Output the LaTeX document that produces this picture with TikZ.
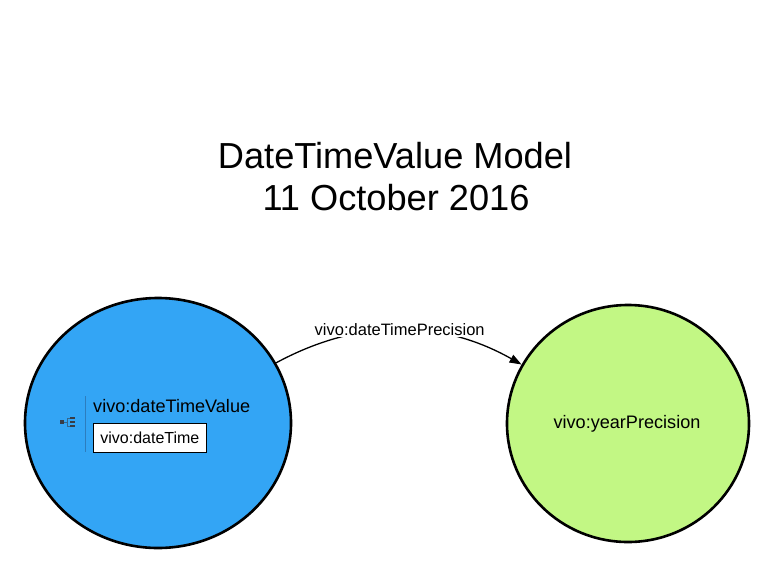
\documentclass[tikz,border=0pt]{standalone}
\usepackage{fontspec}
\setmainfont{Liberation Sans}
\usetikzlibrary{shapes.geometric,arrows.meta}
\definecolor{nodeblue}{RGB}{51,165,245}
\definecolor{nodegreen}{RGB}{194,247,132}
\definecolor{sepblue}{RGB}{44,125,190}
\definecolor{icongray}{RGB}{55,60,70}
\tikzset{
  classnode/.style={ellipse, draw=black, line width=2.6pt, inner sep=0pt},
  titletext/.style={font=\fontsize{36.2}{42}\selectfont, inner sep=0pt, anchor=base},
  labeltext/.style={font=\fontsize{18.1}{20}\selectfont, inner sep=0pt},
  proptext/.style={font=\fontsize{16}{18}\selectfont},
  propbox/.style={draw=black, line width=0.8pt, fill=white, inner xsep=6.5pt, inner ysep=0pt,
    text height=12pt, text depth=1pt, minimum height=29pt, minimum width=113pt, anchor=west},
  edge/.style={line width=1.3pt, -{Triangle[length=12pt,width=8.5pt]}},
  edgelabel/.style={font=\fontsize{16.5}{18}\selectfont, fill=white, inner sep=1pt}
}
\begin{document}
\begin{tikzpicture}[x=1pt,y=-1pt]
\useasboundingbox (0,0) rectangle (775,576);
% title
\node[titletext] (title1) at (395,168) {DateTimeValue Model};
\node[titletext] (title2) at (396,210) {11 October 2016};
% nodes
\node[classnode, fill=nodeblue, minimum width=266pt, minimum height=250pt] (dtv) at (158,423) {};
\node[classnode, fill=nodegreen, minimum width=242pt, minimum height=237pt] (yp) at (628,423.5) {};
% contents of left node
\node[labeltext, anchor=base west] (dtvlabel) at (93,412) {vivo:dateTimeValue};
\node[propbox, proptext] (dtprop) at (93,437.5) {vivo:dateTime};
\coordinate (septop) at (85.5,396);
\coordinate (sepbot) at (85.5,452);
\draw[sepblue, line width=1.6pt] (septop) -- (sepbot);
% tree icon
\fill[icongray] (60,420) rectangle (64,424);
\draw[icongray!60!nodeblue, line width=0.5pt] (64,422) -- (67,422) (67,418) -- (67,426)
  (67,418) -- (70,418) (67,426) -- (70,426);
\fill[icongray] (70,417) rectangle (75,419.3);
\fill[icongray] (70,421) rectangle (75,423.3);
\fill[icongray] (70,425) rectangle (75,427.3);
% right node label
\node[labeltext] (yplabel) at (627,424) {vivo:yearPrecision};
% edge
\draw[edge] (dtv.27) .. controls (359,318) and (441,319) .. (yp.151)
  node[edgelabel, pos=0.5] (elabel) {vivo:dateTimePrecision};
\end{tikzpicture}
\end{document}
